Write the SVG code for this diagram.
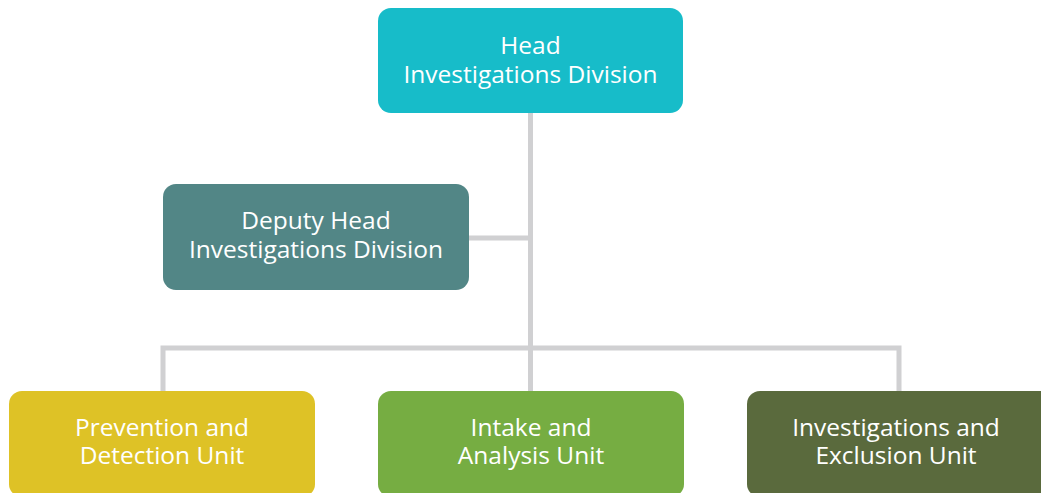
<svg xmlns="http://www.w3.org/2000/svg" width="1041" height="493" viewBox="0 0 1041 493">
<style>
.lbl{font-family:"Open Sans","Liberation Sans",sans-serif;font-size:24.5px;fill:#ffffff;text-anchor:middle}
.conn{stroke:#D0D0D2;stroke-width:5;fill:none}
</style>
<rect width="1041" height="493" fill="#ffffff"/>
<g id="connectors">
<path class="conn" d="M530.5 113 V391"/>
<path class="conn" d="M469 238 H530.5"/>
<path class="conn" d="M163 391 V348 H899 V391"/>
</g>
<g id="head">
<rect x="378" y="8" width="305" height="105" rx="13" fill="#17BCC9"/>
<text class="lbl" x="530.5" y="54">Head</text>
<text class="lbl" x="530.5" y="83">Investigations Division</text>
</g>
<g id="deputy">
<rect x="163" y="184" width="306" height="106" rx="13" fill="#528686"/>
<text class="lbl" x="316" y="229">Deputy Head</text>
<text class="lbl" x="316" y="258">Investigations Division</text>
</g>
<g id="prevention">
<rect x="9" y="391" width="306" height="106" rx="13" fill="#DEC226"/>
<text class="lbl" x="162" y="436">Prevention and</text>
<text class="lbl" x="162" y="464">Detection Unit</text>
</g>
<g id="intake">
<rect x="378" y="391" width="306" height="106" rx="13" fill="#76AD42"/>
<text class="lbl" x="531" y="436">Intake and</text>
<text class="lbl" x="531" y="464">Analysis Unit</text>
</g>
<g id="investigations">
<rect x="747" y="391" width="306" height="106" rx="13" fill="#5A6A3D"/>
<text class="lbl" x="896" y="436">Investigations and</text>
<text class="lbl" x="896" y="464">Exclusion Unit</text>
</g>
</svg>
